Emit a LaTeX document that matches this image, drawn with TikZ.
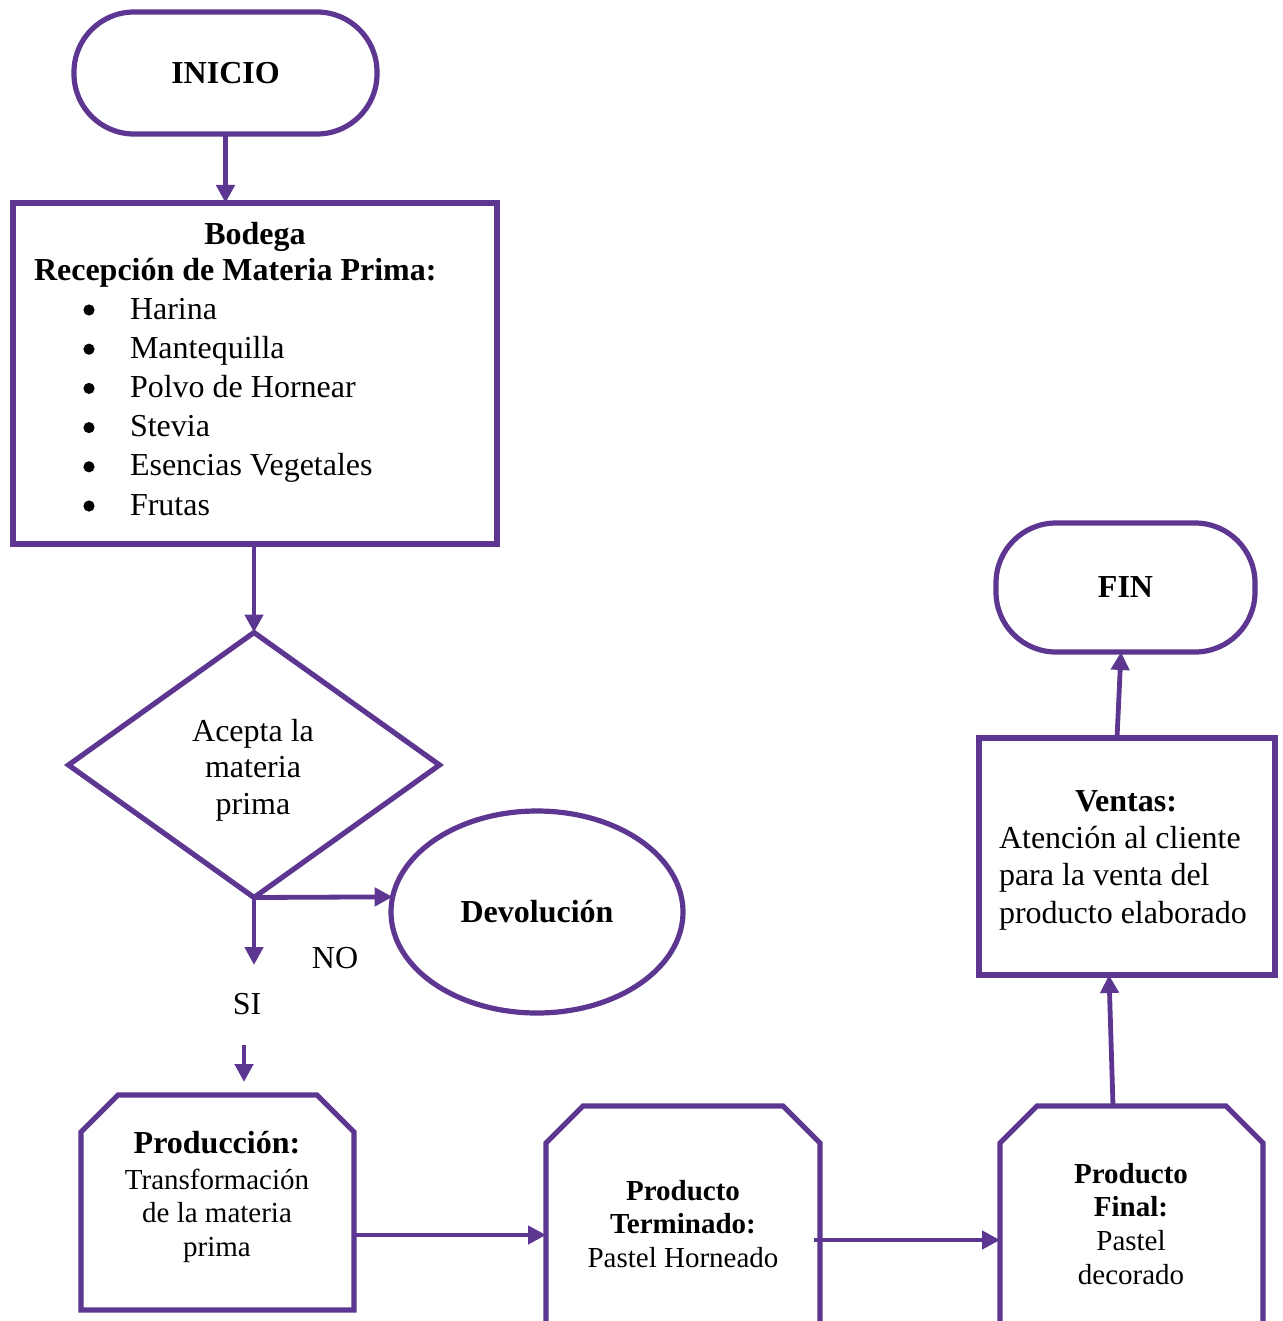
\documentclass[tikz,border=0pt]{standalone}
\usepackage{fontspec}
\setmainfont{Liberation Serif}
\usetikzlibrary{arrows.meta,shapes.geometric,calc}
\definecolor{flowpurple}{RGB}{92,54,145}
\begin{document}
\begin{tikzpicture}[x=0.5pt,y=-0.5pt,
  every node/.style={inner sep=0pt,outer sep=0pt},
  shapebox/.style={draw=flowpurple,line width=2.6pt,fill=white},
  terminal/.style={shapebox,rectangle,rounded corners=30pt,font=\fontsize{16}{19.5}\bfseries\selectfont},
  procbox/.style={shapebox,rectangle},
  frame/.style={rectangle},
  outline/.style={draw=flowpurple,line width=2.6pt,line join=miter},
  txt/.style={font=\fontsize{16}{19.5}\selectfont,anchor=base},
  btxt/.style={font=\fontsize{16}{19.5}\bfseries\selectfont,anchor=base},
  stxt/.style={font=\fontsize{14.5}{17}\selectfont,anchor=base},
  sbtxt/.style={font=\fontsize{14.5}{17}\bfseries\selectfont,anchor=base},
  dot/.style={circle,fill=black,minimum size=5.6pt},
  arr/.style={draw=flowpurple,line width=2.4pt,-{Triangle[length=9pt,width=9pt]}}]
\useasboundingbox (0,0) rectangle (1282,1321);
\clip (0,0) rectangle (1282,1321);

% start and end terminals
\node[terminal,minimum width=151.5pt,minimum height=61pt] (inicio) at (225.5,73) {INICIO};
\node[terminal,minimum width=129.5pt,minimum height=64.5pt] (fin) at (1125.5,587.5) {FIN};

% warehouse reception
\node[procbox,minimum width=242pt,minimum height=170.5pt] (bodega) at (255,373.5) {};
\node[btxt] (bod1) at (255,244) {Bodega};
\node[btxt,anchor=base west] (bod2) at (34,280) {Recepción de Materia Prima:};
\foreach \item [count=\i] in {Harina,Mantequilla,Polvo de Hornear,Stevia,Esencias Vegetales,Frutas}{
  \node[dot] (bul\i) at (89,{310+39.2*(\i-1)}) {};
  \node[txt,anchor=base west] (item\i) at (130,{319+39.2*(\i-1)}) {\item};
}

% decision
\node[shapebox,diamond,minimum width=185.5pt,minimum height=132.5pt] (dec) at (254,765) {};
\node[txt] (dec1) at (253,741) {Acepta la};
\node[txt] (dec2) at (253,777) {materia};
\node[txt] (dec3) at (253,814) {prima};

% return
\node[shapebox,ellipse,minimum width=146pt,minimum height=101pt,
  font=\fontsize{16}{19.5}\bfseries\selectfont] (dev) at (537,912) {Devolución};

% branch labels
\node[txt] (nolab) at (335,968) {NO};
\node[txt] (silab) at (247,1014) {SI};

% process frames with cut upper corners (chamfer 37 px)
\node[frame,minimum width=136.5pt,minimum height=107.5pt] (prod) at (217.5,1202.5) {};
\node[frame,minimum width=137pt,minimum height=112pt] (pt) at (683,1218) {};
\node[frame,minimum width=131.5pt,minimum height=112pt] (pf) at (1131.5,1218) {};
\foreach \n in {prod,pt,pf}{
  \draw[outline] (\n.south west) -- ($(\n.north west)+(0,37)$) -- ($(\n.north west)+(37,0)$)
    -- ($(\n.north east)+(-37,0)$) -- ($(\n.north east)+(0,37)$) -- (\n.south east) -- cycle;
}

% production
\node[btxt] (prodh) at (217,1153) {Producción:};
\node[stxt] (prod1) at (217,1189) {Transformación};
\node[stxt] (prod2) at (217,1222) {de la materia};
\node[stxt] (prod3) at (217,1256) {prima};

% finished product
\node[sbtxt] (pth1) at (683,1200) {Producto};
\node[sbtxt] (pth2) at (683,1233) {Terminado:};
\node[stxt] (pt1) at (683,1267) {Pastel Horneado};

% final product
\node[sbtxt] (pfh1) at (1131,1183) {Producto};
\node[sbtxt] (pfh2) at (1131,1216) {Final:};
\node[stxt] (pf1) at (1131,1250) {Pastel};
\node[stxt] (pf2) at (1131,1284) {decorado};

% sales
\node[procbox,minimum width=148pt,minimum height=118.5pt] (ventas) at (1127,856.5) {};
\node[btxt] (venh) at (1126,811) {Ventas:};
\node[txt,anchor=base west] (ven1) at (999,848) {Atención al cliente};
\node[txt,anchor=base west] (ven2) at (999,885) {para la venta del};
\node[txt,anchor=base west] (ven3) at (999,923) {producto elaborado};

% connectors
\coordinate (sidown) at (254,965);
\coordinate (siup) at (244,1045);
\draw[arr] (inicio.south) -- (bodega.north -| inicio.south);
\draw[arr] (bodega.south -| dec.north) -- (dec.north);
\draw[arr] (dec.south) -- (dev.174);
\draw[arr] (dec.south) -- (sidown);
\draw[arr,shorten >=6.5pt] (siup) -- (prod.north -| siup);
\draw[arr] (prod.east |- 0,1235) -- (pt.west |- 0,1235);
\draw[arr] ($(pt.east |- 0,1240)+(-6,0)$) -- (pf.west |- 0,1240);
\draw[arr] (pf.north -| 1113,0) -- (ventas.south -| 1109,0);
\draw[arr] (ventas.north -| 1117,0) -- (fin.south -| 1121,0);
\end{tikzpicture}
\end{document}
